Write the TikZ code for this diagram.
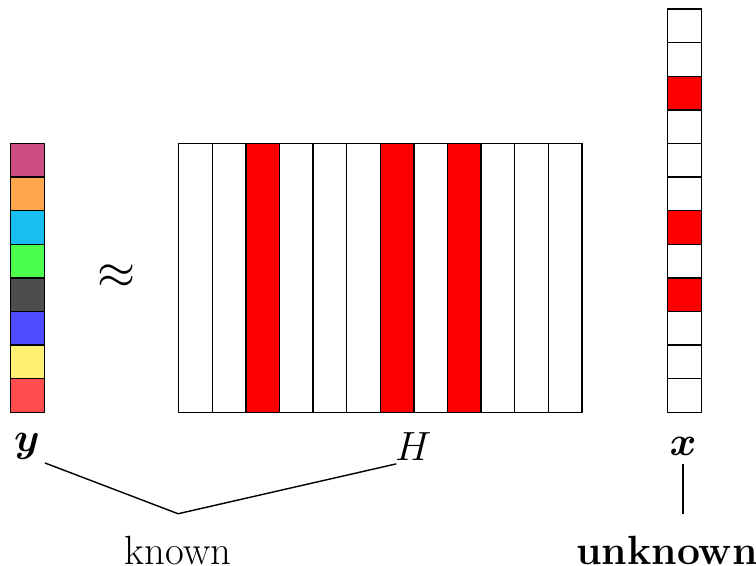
\documentclass[tikz,border=0pt]{standalone}
\usepackage{amsmath}
\usepackage{amssymb}
\usepackage{xcolor}
\usetikzlibrary{positioning, calc}

\definecolor{cY1}{RGB}{204,76,128}
\definecolor{cY2}{RGB}{255,166,77}
\definecolor{cY3}{RGB}{25,190,240}
\definecolor{cY4}{RGB}{77,255,77}
\definecolor{cY5}{RGB}{77,77,77}
\definecolor{cY6}{RGB}{77,77,255}
\definecolor{cY7}{RGB}{255,240,115}
\definecolor{cY8}{RGB}{255,77,77}

\begin{document}
\begin{tikzpicture}[
    x=0.5cm, y=0.5cm,
    cell/.style={rectangle, draw, semithick, minimum width=0.5cm, minimum height=0.5cm, inner sep=0pt, anchor=south west},
    col/.style={rectangle, draw, semithick, minimum width=0.5cm, minimum height=4cm, inner sep=0pt, anchor=south west},
    lab/.style={font=\LARGE},
    link/.style={draw, semithick},
]
    \useasboundingbox (-0.3,-4.55) rectangle (22.2,12.29);

    % y vector
    \foreach \c [count=\i from 0] in {cY8,cY7,cY6,cY5,cY4,cY3,cY2,cY1}
        \node[cell, fill=\c] (y\i) at (0,\i) {};

    \node[font=\huge] (approx) at (3.18,4.05) {$\approx$};

    % H matrix
    \foreach \i in {0,...,11}
        \node[col] (h\i) at (5+\i,0) {};
    \foreach \i in {2,6,8}
        \node[col, fill=red] at (5+\i,0) {};

    % x vector
    \foreach \i in {0,...,11}
        \node[cell] (x\i) at (19.55,11-\i) {};
    \foreach \i in {2,6,8}
        \node[cell, fill=red] at (19.55,11-\i) {};

    % labels
    \node[lab] (ylab) at (0.5,-1.0) {$\boldsymbol{y}$};
    \node[lab] (Hlab) at (12.0,-1.0) {$H$};
    \node[lab] (xlab) at (20.03,-1.0) {$\boldsymbol{x}$};
    \node[lab, inner sep=0.5pt] (known) at (5.0,-4.08) {known};
    \node[lab, inner sep=0.5pt] (unknown) at (19.55,-4.08) {\textbf{unknown}};

    \coordinate (kn) at (5.0,-3.0);
    \coordinate (un) at (20.03,-3.0);
    \draw[link] ([shift={(-1.3pt,2.1pt)}]ylab.south east) -- (kn) -- ([shift={(4pt,2.1pt)}]Hlab.south west);
    \draw[link] (xlab.south) -- (un);
\end{tikzpicture}
\end{document}
